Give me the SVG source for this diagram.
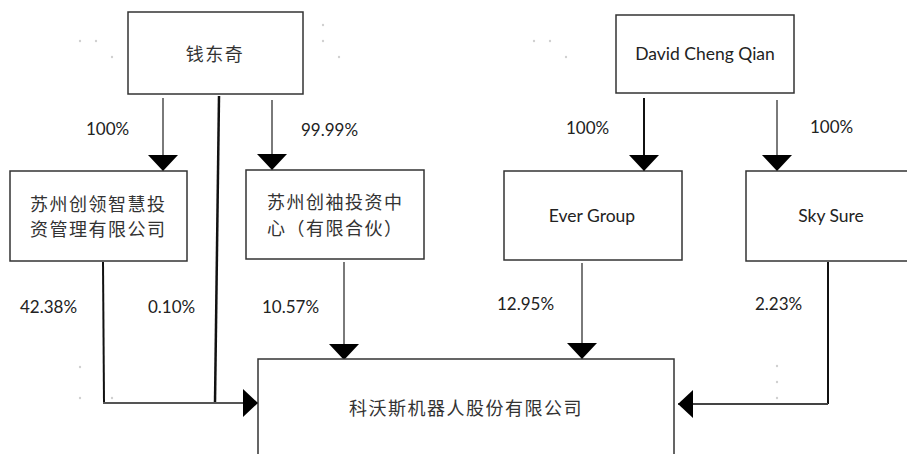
<svg xmlns="http://www.w3.org/2000/svg" width="907" height="454" viewBox="0 0 907 454">
<style>
.box{fill:#fff;stroke:#333;stroke-width:1.5}
.cn{font-family:"Noto Sans CJK SC","Noto Sans",sans-serif;font-size:18px;fill:#333;letter-spacing:1.5px}
.en{font-family:Lato,"Liberation Sans",sans-serif;font-size:17.5px;fill:#222}
.lbl{font-family:Lato,"Liberation Sans",sans-serif;font-size:17px;fill:#222}
.g{fill:none;stroke:#7a7a7a;stroke-width:2}
.k{fill:none;stroke:#111;stroke-width:2}
.dot{fill:#d0d0d0}
</style>
<defs>
<marker id="arr" markerUnits="userSpaceOnUse" viewBox="0 0 16 30" refX="16" refY="15" markerWidth="16" markerHeight="30" orient="auto">
<path d="M0,0 L16,15 L0,30 Z" fill="#000"/>
</marker>
<marker id="arrh" markerUnits="userSpaceOnUse" viewBox="0 0 15 28" refX="15" refY="14" markerWidth="15" markerHeight="28" orient="auto">
<path d="M0,0 L15,14 L0,28 Z" fill="#000"/>
</marker>
</defs>
<rect width="907" height="454" fill="#fff"/>
<g id="specks">
<circle class="dot" cx="80" cy="41" r="1.2"/><circle class="dot" cx="96" cy="41" r="1.2"/><circle class="dot" cx="112" cy="57" r="1.2"/>
<circle class="dot" cx="323" cy="25" r="1.2"/><circle class="dot" cx="323" cy="41" r="1.2"/><circle class="dot" cx="339" cy="57" r="1.2"/>
<circle class="dot" cx="534" cy="41" r="1.2"/><circle class="dot" cx="550" cy="41" r="1.2"/><circle class="dot" cx="566" cy="57" r="1.2"/>
<circle class="dot" cx="777" cy="41" r="1.2"/><circle class="dot" cx="793" cy="41" r="1.2"/>
<circle class="dot" cx="80" cy="367" r="1.2"/><circle class="dot" cx="80" cy="398" r="1.2"/><circle class="dot" cx="112" cy="398" r="1.2"/>
<circle class="dot" cx="307" cy="366" r="1.2"/><circle class="dot" cx="307" cy="398" r="1.2"/><circle class="dot" cx="339" cy="398" r="1.2"/>
<circle class="dot" cx="549" cy="366" r="1.2"/><circle class="dot" cx="549" cy="382" r="1.2"/><circle class="dot" cx="549" cy="398" r="1.2"/>
<circle class="dot" cx="777" cy="366" r="1.2"/><circle class="dot" cx="777" cy="382" r="1.2"/><circle class="dot" cx="777" cy="398" r="1.2"/>
</g>
<g id="connectors">
<path class="g" d="M163,98 L163,171" marker-end="url(#arr)"/>
<path class="g" d="M272,100 L272,170" marker-end="url(#arr)"/>
<path class="k" d="M644,98 L644,171" marker-end="url(#arr)"/>
<path class="g" d="M777,100 L777,171" marker-end="url(#arr)"/>
<path class="g" d="M344,262 L344,360" marker-end="url(#arr)"/>
<path class="g" d="M582,263 L582,359" marker-end="url(#arr)"/>
<path class="k" d="M103,262 L104,403"/>
<path class="k" d="M219,96 L215,403" style="stroke-width:2.5"/>
<path class="g" d="M103,403 L258,403" marker-end="url(#arrh)" style="stroke:#555"/>
<path class="k" d="M828,262 L828,404"/>
<path class="g" d="M828,404 L678,404" marker-end="url(#arrh)" style="stroke:#444"/>
</g>
<g id="labels">
<text class="lbl" x="86" y="135">100%</text>
<text class="lbl" x="301" y="136">99.99%</text>
<text class="lbl" x="566" y="134">100%</text>
<text class="lbl" x="810" y="133">100%</text>
<text class="lbl" x="20" y="313">42.38%</text>
<text class="lbl" x="148" y="313">0.10%</text>
<text class="lbl" x="262" y="313">10.57%</text>
<text class="lbl" x="497" y="310">12.95%</text>
<text class="lbl" x="755" y="310">2.23%</text>
</g>
<g id="n-qiandongqi">
<rect class="box" x="128" y="12" width="175" height="82"/>
<text class="cn" x="215" y="61" text-anchor="middle">钱东奇</text>
</g>
<g id="n-david">
<rect class="box" x="616" y="15" width="178" height="78"/>
<text class="en" x="705" y="60" text-anchor="middle">David Cheng Qian</text>
</g>
<g id="n-chuangling">
<rect class="box" x="10" y="171" width="177" height="90"/>
<text class="cn" x="30" y="211">苏州创领智慧投</text>
<text class="cn" x="30" y="236">资管理有限公司</text>
</g>
<g id="n-chuangxiu">
<rect class="box" x="246" y="170" width="178" height="89"/>
<text class="cn" x="267" y="209">苏州创袖投资中</text>
<text class="cn" x="267" y="235">心（有限合伙）</text>
</g>
<g id="n-ever">
<rect class="box" x="504" y="171" width="178" height="89"/>
<text class="en" x="592" y="222" text-anchor="middle">Ever Group</text>
</g>
<g id="n-sky">
<rect class="box" x="746" y="171" width="170" height="90"/>
<text class="en" x="831" y="222" text-anchor="middle">Sky Sure</text>
</g>
<g id="n-ecovacs">
<rect class="box" x="258" y="359" width="416" height="110"/>
<text class="cn" x="466" y="415" text-anchor="middle">科沃斯机器人股份有限公司</text>
</g>
</svg>
